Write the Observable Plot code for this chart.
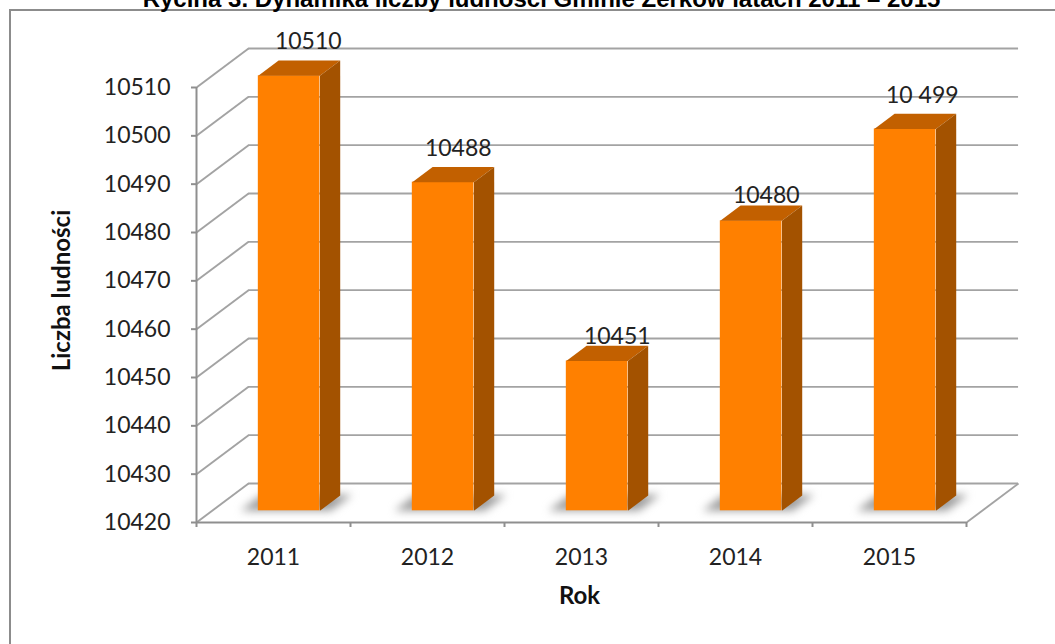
<!DOCTYPE html>
<html><head><meta charset="utf-8">
<script src="https://cdn.jsdelivr.net/npm/d3@7"></script>
<script src="https://cdn.jsdelivr.net/npm/@observablehq/plot@0.6"></script>
<style>
html,body{margin:0;padding:0;background:#fff;overflow:hidden}
#wrap{position:relative;width:1055px;height:644px}
#border{position:absolute;left:9px;top:9px;right:-5px;bottom:-5px;border:2px solid #8c8c8c}
#chart{position:absolute;left:0;top:0}
svg{display:block}
</style></head><body>
<div id="wrap"><div id="border"></div><div id="chart"></div></div>
<script>
const years = ["2011","2012","2013","2014","2015"];
const values = [10510,10488,10451,10480,10499];
const valueLabels = ["10510","10488","10451","10480","10 499"];
const yTicks = [10420,10430,10440,10450,10460,10470,10480,10490,10500,10510];
const titleText = "Rycina 3. Dynamika liczby ludności Gminie Żerków latach 2011 – 2015";
const yTitle = "Liczba ludności";
const xTitle = "Rok";

// oblique projection: depth d (0 front .. 1 back wall) moves a point along the x and y scales
const depthX = 0.338, depthY = 8.07, yMin = yTicks[0];
const px = (i, d) => i + d * depthX;
const py = (v, d) => v + d * depthY;
const d0 = 0.30, d1 = 0.69, halfW = 0.2;
const rows = years.map((year, i) => ({year, i, v: values[i], label: valueLabels[i]}));
const poly = (f) => rows.flatMap(r => f(r).map(([x, y]) => ({id: r.year, x, y})));

const l = r => r.i + 0.5 - halfW, h = r => r.i + 0.5 + halfW;
const frontFaces = rows.map(r => ({x1: px(l(r), d0), x2: px(h(r), d0), y1: py(yMin, d0), y2: py(r.v, d0)}));
const topFaces = poly(r => [[px(l(r),d0),py(r.v,d0)],[px(h(r),d0),py(r.v,d0)],[px(h(r),d1),py(r.v,d1)],[px(l(r),d1),py(r.v,d1)]]);
const sideFaces = poly(r => [[px(h(r),d0),py(r.v,d0)],[px(h(r),d1),py(r.v,d1)],[px(h(r),d1),py(yMin,d1)],[px(h(r),d0),py(yMin,d0)]]);
const shadows = poly(r => [[px(l(r)-0.115,d0),py(yMin,d0)],[px(h(r)+0.07,d0),py(yMin,d0)],[px(h(r)+0.07,d1+0.02),py(yMin,d1+0.02)],[px(l(r)-0.115,d1+0.02),py(yMin,d1+0.02)]]);

const grid = "#a3a3a3", axisC = "#8f8f8f", textC = "#222";
const fontFamily = "Lato, sans-serif";
const labelOffsets = [[9,-19],[5,-18],[10,-9],[5,-10],[7,-18]];

const chart = Plot.plot({
  width: 1055, height: 644,
  marginLeft: 196, marginRight: 89, marginTop: 87, marginBottom: 122,
  style: {fontFamily, background: "transparent", overflow: "hidden"},
  x: {type: "linear", domain: [0, 5]},
  y: {type: "linear", domain: [10420, 10510]},
  marks: [
    Plot.ruleY(yTicks, {x1: depthX, x2: 5 + depthX, y: d => py(d, 1), stroke: grid, strokeWidth: 1.9}),
    Plot.link(yTicks, {x1: 0, x2: depthX, y1: d => d, y2: d => py(d, 1), stroke: grid, strokeWidth: 1.9}),
    Plot.link([yMin], {x1: 5, x2: 5 + depthX, y1: d => d, y2: d => py(d, 1), stroke: grid, strokeWidth: 1.9}),
    Plot.line(shadows, {x: "x", y: "y", z: "id", fill: "#9c9c9c", stroke: "none", imageFilter: "blur(4px)"}),
    Plot.axisY({ticks: yTicks, tickFormat: d => String(d), tickSize: 5, tickPadding: 21, stroke: axisC, strokeWidth: 2, fontSize: 23, fill: textC, label: null}),
    Plot.axisX({ticks: [0,1,2,3,4,5], tickFormat: () => "", tickSize: 5, stroke: axisC, strokeWidth: 2, label: null}),
    Plot.ruleX([0], {stroke: axisC, strokeWidth: 2}),
    Plot.ruleY([yMin], {stroke: axisC, strokeWidth: 2}),
    Plot.rect(frontFaces, {x1: "x1", x2: "x2", y1: "y1", y2: "y2", fill: "#ff8000"}),
    Plot.line(topFaces, {x: "x", y: "y", z: "id", fill: "#c26000", stroke: "none"}),
    Plot.line(sideFaces, {x: "x", y: "y", z: "id", fill: "#a35200", stroke: "none"}),
    Plot.text(rows, {x: d => d.i + 0.5, text: "year", frameAnchor: "bottom", lineAnchor: "middle", dy: 35, fontSize: 23, fill: textC}),
    ...rows.map((r, k) => Plot.text([r], {
      x: d => px(d.i + 0.5, (d0 + d1) / 2), y: d => py(d.v, d1), text: "label",
      dx: labelOffsets[k][0], dy: labelOffsets[k][1], fontSize: 23, fill: textC
    })),
    Plot.text([xTitle], {x: 2.5, frameAnchor: "bottom", lineAnchor: "middle", dx: -2, dy: 74, text: d => d, fontSize: 24, fontWeight: "bold", fill: "#111"}),
    Plot.text([yTitle], {y: 10468, frameAnchor: "left", textAnchor: "middle", lineAnchor: "middle", dx: -134, rotate: -90, text: d => d, fontSize: 24, fontWeight: "bold", fill: "#111"}),
    Plot.text([titleText], {frameAnchor: "top", lineAnchor: "middle", dx: -40, dy: -88.5, text: d => d, fontFamily: "Liberation Sans", fontSize: 24, fontWeight: "bold", fill: "#000"})
  ]
});
document.getElementById("chart").append(chart);
</script>
</body></html>
